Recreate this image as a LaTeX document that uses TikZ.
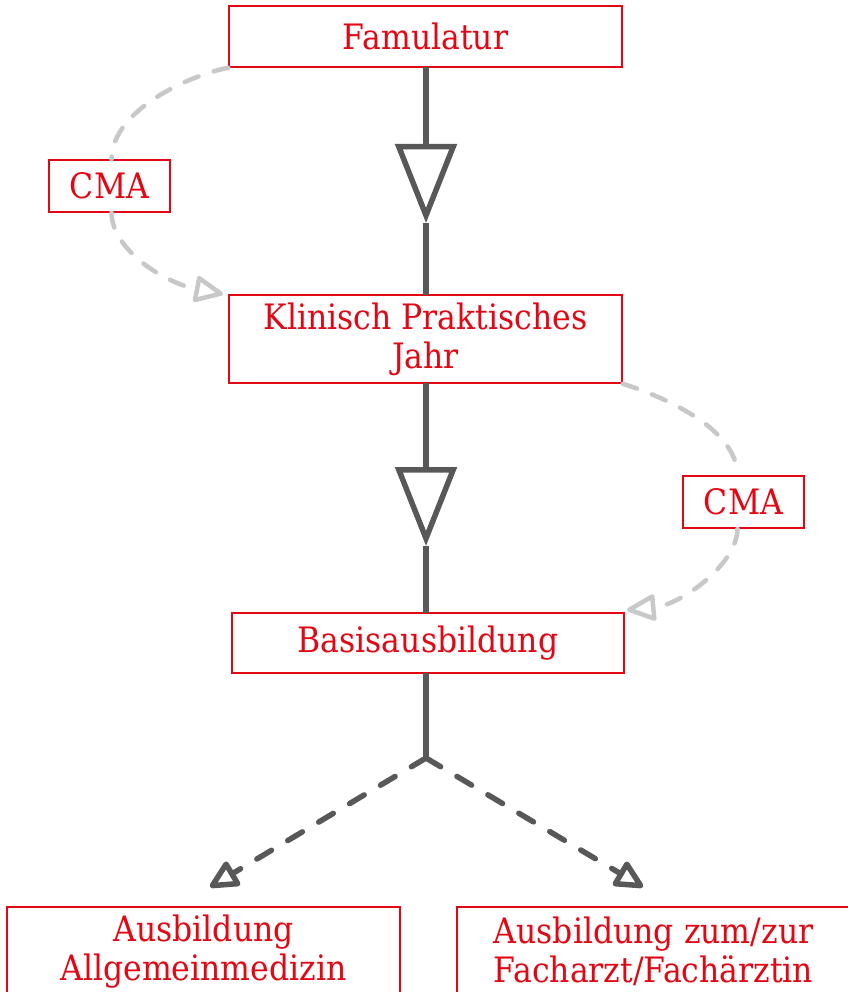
\documentclass[tikz,border=0pt]{standalone}
\usepackage{fontspec}
\setmainfont{DejaVu Serif Condensed}
\usetikzlibrary{arrows.meta}
\definecolor{myred}{HTML}{E30613}
\definecolor{dgray}{HTML}{585858}
\definecolor{lgray}{HTML}{C8C8C8}
\begin{document}
\begin{tikzpicture}[x=1pt,y=1pt,
  box/.style={draw=myred, line width=1.6pt, text=myred, font=\fontsize{35}{39}\selectfont,
    align=center, inner sep=0pt, minimum width=393pt},
  smallbox/.style={box, minimum width=121pt, minimum height=52pt},
  mainline/.style={draw=dgray, line width=5.5pt},
  bigtri/.style={-{Triangle[open, fill=white, length=79pt, width=61pt]}},
  dline/.style={draw=dgray, line width=5.5pt, line cap=round, dash pattern=on 17pt off 19pt,
    -{Triangle[open, round, length=32pt, width=30pt]}},
  gline/.style={draw=lgray, line width=4.5pt, line cap=round, dash pattern=on 15pt off 16pt},
  garrow/.style={-{Triangle[open, round, length=32pt, width=28pt]}}
]
\useasboundingbox (0,0) rectangle (847,-992);
\fill[white] (0,0) rectangle (847,-992);

\node[box, minimum height=61pt] (fam) at (425.5,-36.5) {Famulatur};
\node[smallbox] (cma1) at (109.5,-186) {CMA};
\node[box, minimum height=88pt] (kpj) at (425.5,-339) {Klinisch Praktisches\\Jahr};
\node[smallbox] (cma2) at (743.5,-502) {CMA};
\node[box, minimum width=392pt, minimum height=60pt] (basis) at (428,-643) {Basisausbildung};
\node[box, minimum height=90pt, anchor=north] (aam) at (203.5,-906) {Ausbildung\\Allgemeinmedizin};
\node[box, minimum height=90pt, anchor=north] (fach) at (653.5,-906) {Ausbildung zum/zur\\Facharzt/Fachärztin};

\coordinate (t1) at (426,-223);
\coordinate (t2) at (426,-546);
\coordinate (j) at (426,-758);
\coordinate (la) at (210,-887);
\coordinate (ra) at (643,-887);
\coordinate (g1) at (223,-294);
\coordinate (g2) at (627,-610);

\draw[mainline, bigtri] (426,-67) -- (t1);
\draw[mainline] (t1) -- (426,-295);
\draw[mainline, bigtri] (426,-383) -- (t2);
\draw[mainline] (t2) -- (426,-613);
\draw[mainline] (426,-673) -- (j);
\draw[dline] (j) -- (la);
\draw[dline] (j) -- (ra);

\draw[gline] (fam.south west) .. controls (190,-75) and (112,-110) .. ([xshift=2pt]cma1.north);
\draw[gline, garrow] ([xshift=2pt]cma1.south) .. controls (112,-250) and (165,-283) .. (g1);
\draw[gline] (kpj.south east) .. controls (668,-398) and (737,-430) .. ([xshift=-6pt]cma2.north);
\draw[gline, garrow] ([xshift=-6pt]cma2.south) .. controls (737,-565) and (680,-605) .. (g2);
\end{tikzpicture}
\end{document}
